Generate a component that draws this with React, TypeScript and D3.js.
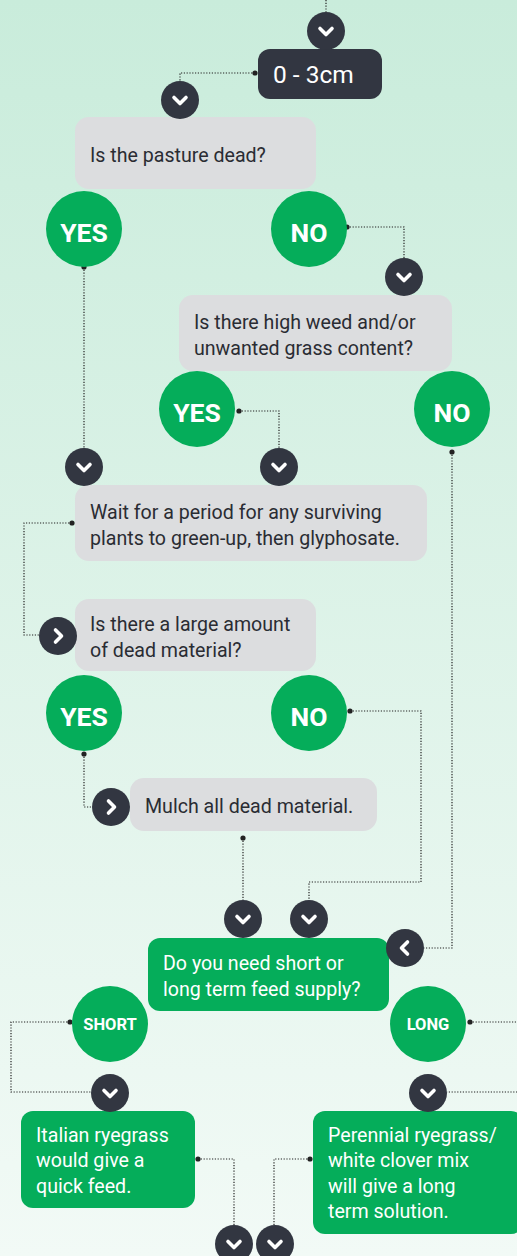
import React from "react";
import * as d3 from "d3";

// ---- content ----
const headerLabel = ["0 - 3cm"];
const questionTexts = [
  ["Is the pasture dead?"],
  ["Is there high weed and/or", "unwanted grass content?"],
  ["Wait for a period for any surviving", "plants to green-up, then glyphosate."],
  ["Is there a large amount", "of dead material?"],
  ["Mulch all dead material."],
];
const decisionText = ["Do you need short or", "long term feed supply?"];
const outcomeTexts = [
  ["Italian ryegrass", "would give a", "quick feed."],
  ["Perennial ryegrass/", "white clover mix", "will give a long", "term solution."],
];
const answerLabels = ["YES", "NO", "YES", "NO", "YES", "NO", "SHORT", "LONG"];

// ---- layout ----
const W = 517, H = 1256;
const GREEN = "#05ad5a", DARK = "#323641", GREY = "#dcdddf", INK = "#2a2c33";
const FONT = "Roboto, 'Open Sans', sans-serif";

const greyBoxes = [
  { x: 75, y: 117, w: 241, h: 72 },
  { x: 179, y: 295, w: 273, h: 76 },
  { x: 75, y: 485, w: 352, h: 76 },
  { x: 75, y: 599, w: 241, h: 72 },
  { x: 130, y: 778, w: 247, h: 53 },
];
const greenBoxes = [
  { x: 21, y: 1111, w: 174, h: 97 },
  { x: 313, y: 1111, w: 210, h: 123 },
];
const decisionBox = { x: 148, y: 938, w: 241, h: 73 };
const answerPos = [
  [84, 229], [309, 229], [197, 409], [452, 409], [84, 713], [309, 713], [110, 1024], [428, 1024],
];
const chevrons: [number, number, string][] = [
  [326, 31, "d"], [180, 100, "d"], [404, 277, "d"], [84, 467, "d"], [279, 467, "d"],
  [58, 636, "r"], [111, 807, "r"], [243, 919, "d"], [309, 919, "d"], [405, 948, "l"],
  [110, 1093, "d"], [428, 1093, "d"], [234, 1244, "d"], [275, 1244, "d"],
];
const links: { pts: [number, number][]; dot: boolean }[] = [
  { pts: [[326, 0], [326, 12]], dot: false },
  { pts: [[255, 73], [180, 73], [180, 81]], dot: true },
  { pts: [[347, 227], [404, 227], [404, 258]], dot: true },
  { pts: [[84, 267], [84, 448]], dot: true },
  { pts: [[239, 411], [279, 411], [279, 448]], dot: true },
  { pts: [[452, 452], [452, 948], [424, 948]], dot: true },
  { pts: [[72, 523], [24, 523], [24, 635], [39, 635]], dot: true },
  { pts: [[84, 754], [84, 807], [92, 807]], dot: true },
  { pts: [[350, 711], [421, 711], [421, 882], [309, 882], [309, 900]], dot: true },
  { pts: [[243, 838], [243, 900]], dot: true },
  { pts: [[70, 1022], [11, 1022], [11, 1092], [91, 1092]], dot: true },
  { pts: [[470, 1022], [530, 1022], [530, 1092], [447, 1092]], dot: true },
  { pts: [[198, 1159], [234, 1159], [234, 1225]], dot: true },
  { pts: [[310, 1159], [274, 1159], [274, 1225]], dot: true },
];

const line = d3.line<[number, number]>().x((d) => d[0]).y((d) => d[1]);
const chevPath: Record<string, string> = {
  d: "M-6,-2.5L0,3.5L6,-2.5",
  r: "M-2.5,-6L3.5,0L-2.5,6",
  l: "M2.5,-6L-3.5,0L2.5,6",
};
const LH = 26;
const FS = 19.6;

export default function App() {
  return (
    <svg width={W} height={H} style={{ position: "absolute", left: 0, top: 0, display: "block" }}>
      <defs>
        <linearGradient id="bg" x1="0" y1="0" x2="0" y2="1">
          <stop offset="0" stopColor="#c9ecdb" />
          <stop offset="1" stopColor="#f2faf6" />
        </linearGradient>
      </defs>
      <rect width={W} height={H} fill="url(#bg)" />

      {links.map((l, i) => (
        <g key={"l" + i}>
          <path d={line(l.pts) || ""} fill="none" stroke="#222" strokeWidth={1.2} strokeDasharray="1.2,1.6" />
          {l.dot && <circle cx={l.pts[0][0]} cy={l.pts[0][1]} r={2.6} fill="#222" />}
        </g>
      ))}

      {/* header */}
      <rect x={258} y={49} width={124} height={50} rx={12} fill={DARK} />
      <text x={273} y={83} fill="#fff" fontFamily={FONT} fontSize={24.5}>{headerLabel[0]}</text>

      {greyBoxes.map((b, i) => {
        const lines = questionTexts[i];
        const y0 = b.y + b.h / 2 - ((lines.length - 1) * LH) / 2 + 8.5;
        return (
          <g key={"q" + i}>
            <rect x={b.x} y={b.y} width={b.w} height={b.h} rx={14} fill={GREY} />
            {lines.map((t, j) => (
              <text key={j} x={b.x + 15} y={y0 + j * LH} fill={INK} fontFamily={FONT} fontSize={FS}>{t}</text>
            ))}
          </g>
        );
      })}

      <g>
        <rect x={decisionBox.x} y={decisionBox.y} width={decisionBox.w} height={decisionBox.h} rx={12} fill={GREEN} />
        {decisionText.map((t, j) => (
          <text key={j} x={decisionBox.x + 15} y={970 + j * 25.5} fill="#fff" fontFamily={FONT} fontSize={FS}>{t}</text>
        ))}
      </g>

      {greenBoxes.map((b, i) => (
        <g key={"o" + i}>
          <rect x={b.x} y={b.y} width={b.w} height={b.h} rx={12} fill={GREEN} />
          {outcomeTexts[i].map((t, j) => (
            <text key={j} x={b.x + 15} y={1142 + j * 25.3} fill="#fff" fontFamily={FONT} fontSize={FS}>{t}</text>
          ))}
        </g>
      ))}

      {answerPos.map(([cx, cy], i) => {
        const lab = answerLabels[i];
        const small = lab.length > 3;
        return (
          <g key={"a" + i}>
            <circle cx={cx} cy={cy} r={38} fill={GREEN} />
            <text x={cx} y={cy + (small ? 6 : 12.5)} textAnchor="middle" fill="#fff" fontFamily={FONT}
              fontWeight={700} fontSize={small ? 16.5 : 26.5}>{lab}</text>
          </g>
        );
      })}

      {chevrons.map(([cx, cy, dir], i) => (
        <g key={"c" + i} transform={`translate(${cx},${cy})`}>
          <circle r={19} fill={DARK} />
          <path d={chevPath[dir]} fill="none" stroke="#fff" strokeWidth={3.6} strokeLinecap="round" strokeLinejoin="round" />
        </g>
      ))}
    </svg>
  );
}
